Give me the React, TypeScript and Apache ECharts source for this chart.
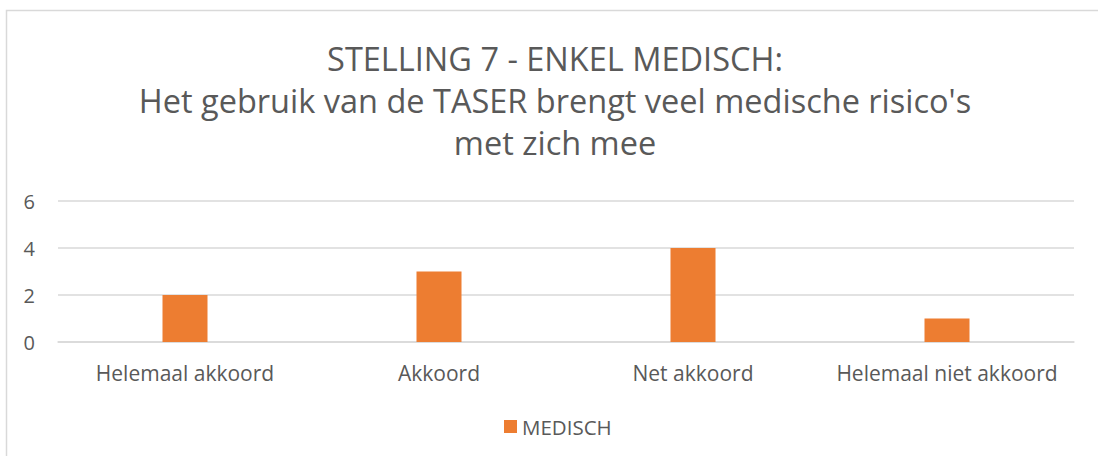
import React, { useEffect, useRef } from "react";
import * as echarts from "echarts";

const titleLines = [
  "STELLING 7 - ENKEL MEDISCH:",
  "Het gebruik van de TASER brengt veel medische risico's",
  "met zich mee",
];
const categories = ["Helemaal akkoord", "Akkoord", "Net akkoord", "Helemaal niet akkoord"];
const seriesName = "MEDISCH";
const medischValues = [2, 3, 4, 1];
const yTicks = { min: 0, max: 6, interval: 2 };

const FONT = "'Open Sans', sans-serif";
const TEXT = "#595959";

export default function App() {
  const ref = useRef<HTMLDivElement>(null);
  useEffect(() => {
    if (!ref.current) return;
    const chart = echarts.init(ref.current, null, { renderer: "svg" });
    chart.setOption({
      animation: false,
      backgroundColor: "#ffffff",
      title: {
        text: titleLines.join("\n"),
        left: 550,
        textAlign: "center",
        top: 32,
        textStyle: {
          fontFamily: FONT,
          fontSize: 32.5,
          fontWeight: "normal",
          color: TEXT,
          lineHeight: 42,
        },
      },
      graphic: [
        {
          type: "rect",
          shape: { x: 6.5, y: 10.5, width: 1200, height: 600 },
          style: { fill: "none", stroke: "#d9d9d9", lineWidth: 1.5 },
          silent: true,
          z: -1,
        },
      ],
      legend: {
        data: [seriesName],
        top: 416,
        left: 504,
        padding: 0,
        itemWidth: 13,
        itemHeight: 13,
        icon: "rect",
        textStyle: { fontFamily: FONT, fontSize: 20.5, color: TEXT },
      },
      grid: { left: 58, right: 24, top: 201, bottom: 114, containLabel: false },
      xAxis: {
        type: "category",
        data: categories,
        axisLine: { show: true, lineStyle: { color: "#d9d9d9", width: 1.5 } },
        axisTick: { show: false },
        axisLabel: { fontFamily: FONT, fontSize: 21, color: TEXT, margin: 20, interval: 0 },
      },
      yAxis: {
        type: "value",
        min: yTicks.min,
        max: yTicks.max,
        interval: yTicks.interval,
        axisLine: { show: false },
        axisTick: { show: false },
        splitLine: { lineStyle: { color: "#d9d9d9", width: 1.5 } },
        axisLabel: { fontFamily: FONT, fontSize: 20, color: TEXT, margin: 23 },
      },
      series: [
        {
          name: seriesName,
          type: "bar",
          data: medischValues,
          barWidth: 45,
          itemStyle: { color: "#ED7D31" },
        },
      ],
    });
    return () => chart.dispose();
  }, []);
  return (
    <div
      ref={ref}
      style={{ position: "fixed", left: 0, top: 0, width: 1098, height: 456 }}
    />
  );
}
